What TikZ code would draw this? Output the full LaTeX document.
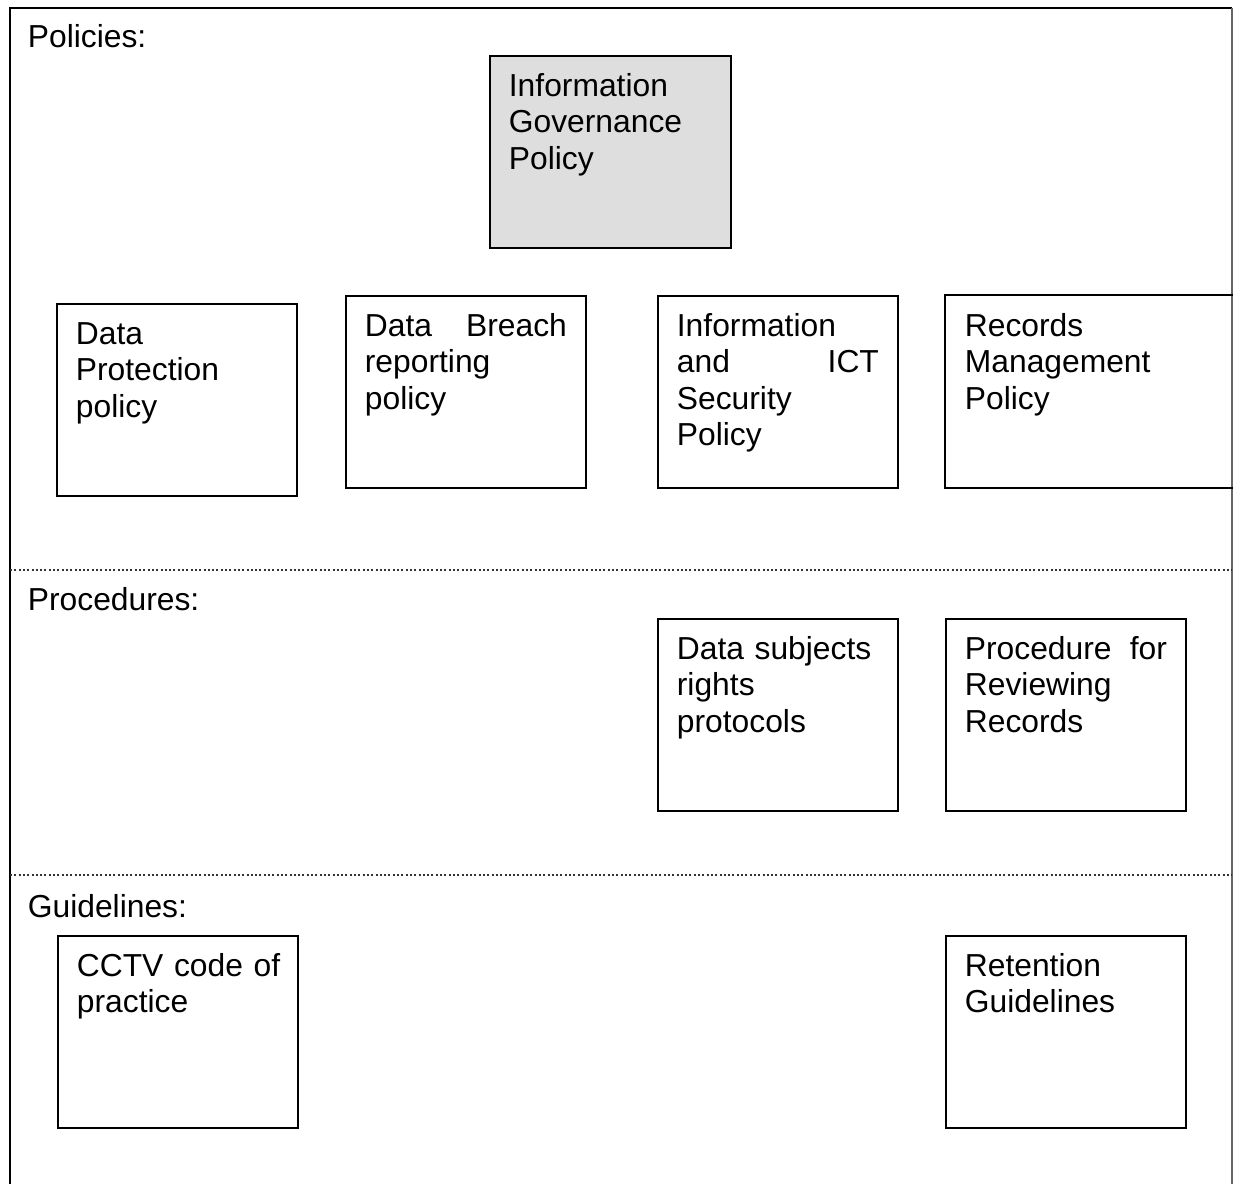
\documentclass[tikz,border=0pt]{standalone}
\usepackage{fontspec}
\setmainfont{Liberation Sans}
\definecolor{igfill}{RGB}{222,222,222}
\begin{document}
\begin{tikzpicture}[x=0.5pt,y=-0.5pt,
  boxline/.style={draw=black,line width=1pt},
  box/.style={boxline,rectangle,inner sep=0pt,anchor=north west,minimum width=120pt,minimum height=96pt},
  boxnd/.style={rectangle,inner sep=0pt,anchor=north west,minimum width=120pt,minimum height=96pt},
  txt/.style={font=\fontsize{15.9pt}{18.3pt}\selectfont,text width=101pt,align=left,inner sep=0pt,anchor=base west,xshift=9.75pt,yshift=-20.5pt},
  lbl/.style={font=\fontsize{15.9pt}{18.3pt}\selectfont,inner sep=0pt,anchor=base west},
  frame/.style={draw=black,line width=1pt},
  frameR/.style={draw=black!60,line width=0.6pt},
  sep/.style={draw=black!80,line width=0.8pt,dash pattern=on 1pt off 1.15pt}
]
\useasboundingbox (0,0) rectangle (1233,1184);
% outer frame
\coordinate (fbl) at (9.5,1184);
\coordinate (ftl) at (9.5,7.5);
\coordinate (ftr) at (1232,7.5);
\coordinate (fbr) at (1232,1184);
\draw[frame] (fbl) -- (ftl) -- (ftr);
\draw[frameR] (ftr) -- (fbr);
% separators
\coordinate (d1l) at (10,570);
\coordinate (d1r) at (1232,570);
\coordinate (d2l) at (10,875);
\coordinate (d2r) at (1232,875);
\draw[sep] (d1l) -- (d1r);
\draw[sep] (d2l) -- (d2r);
% section labels
\node[lbl] (pol) at (27.5,47.5) {Policies:};
\node[lbl] (pro) at (27.5,610.5) {Procedures:};
\node[lbl] (gui) at (27.5,917.5) {Guidelines:};
% policies
\node[box,fill=igfill,minimum width=120.5pt] (ig) at (489,55) {};
\node[txt] (igt) at (ig.north west) {Information\\Governance\\Policy};
\node[box] (dp) at (56,303) {};
\node[txt] (dpt) at (dp.north west) {Data\\Protection\\policy};
\node[box] (db) at (345,295) {};
\node[txt] (dbt) at (db.north west) {Data\hfill Breach\\reporting\\policy};
\node[box] (ict) at (657,295) {};
\node[txt] (ictt) at (ict.north west) {Information\\and\hfill ICT\\Security\\Policy};
\node[boxnd,minimum width=143.5pt] (rm) at (945,295) {};
\draw[boxline] (rm.north east) -- (rm.north west) -- (rm.south west) -- (rm.south east);
\node[txt] (rmt) at (rm.north west) {Records\\Management\\Policy};
% procedures
\node[box] (dsr) at (657,618) {};
\node[txt] (dsrt) at (dsr.north west) {Data subjects\\rights\\protocols};
\node[box] (prr) at (945,618) {};
\node[txt] (prrt) at (prr.north west) {Procedure\hfill for\\Reviewing\\Records};
% guidelines
\node[box] (cctv) at (57,935) {};
\node[txt] (cctvt) at (cctv.north west) {\mbox{CCTV code of}\\practice};
\node[box] (rg) at (945,935) {};
\node[txt] (rgt) at (rg.north west) {Retention\\Guidelines};
\end{tikzpicture}
\end{document}
